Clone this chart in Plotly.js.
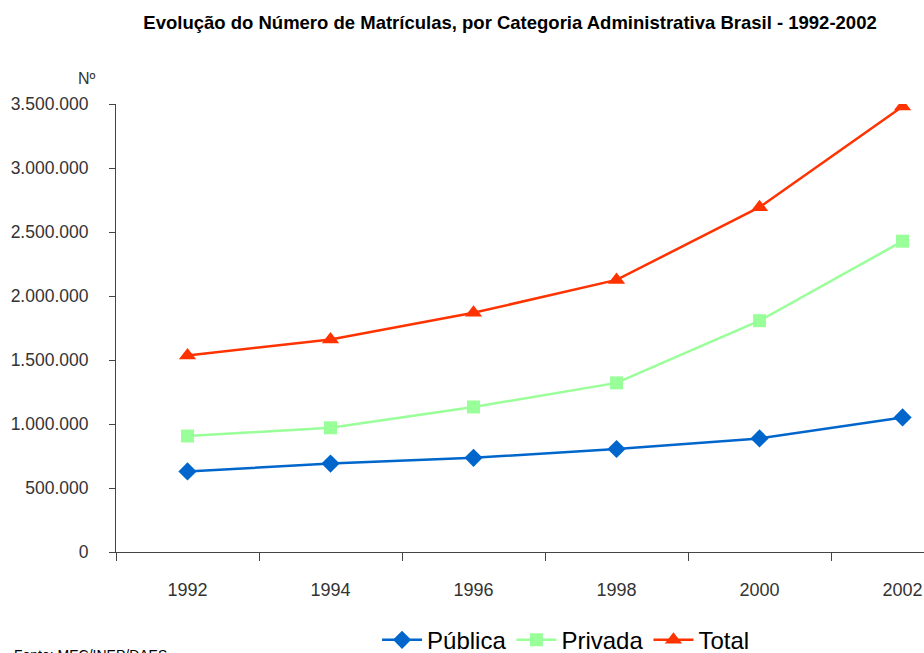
<!DOCTYPE html>
<html>
<head>
<meta charset="utf-8">
<script src="https://cdn.plot.ly/plotly-3.0.1.min.js"></script>
<style>html,body{margin:0;padding:0;background:#fff;}#chart{width:924px;height:653px;}</style>
</head>
<body>
<div id="chart"></div>
<script>
const years = ["1992", "1994", "1996", "1998", "2000", "2002"];
const publica = [629662, 690450, 735427, 804729, 887026, 1051655];
const privada = [906126, 970584, 1133102, 1321229, 1807219, 2428258];
const total = [1535788, 1661034, 1868529, 2125958, 2694245, 3479913];
const yTicks = [0, 500000, 1000000, 1500000, 2000000, 2500000, 3000000, 3500000];
const yTickText = ["0", "500.000", "1.000.000", "1.500.000", "2.000.000", "2.500.000", "3.000.000", "3.500.000"];

const font = "Liberation Sans, Arial, sans-serif";
const txt = "#333";
const traces = [
  {x: years, y: publica, name: "Pública", mode: "lines+markers", type: "scatter",
   line: {color: "#0066CC", width: 2.5}, marker: {symbol: "diamond", size: 14, color: "#0066CC"}},
  {x: years, y: privada, name: "Privada", mode: "lines+markers", type: "scatter",
   line: {color: "#99FF99", width: 2.5}, marker: {symbol: "square", size: 13, color: "#99FF99"}},
  {x: years, y: total, name: "Total", mode: "lines+markers", type: "scatter",
   line: {color: "#FF3300", width: 2.5}, marker: {symbol: "triangle-up", size: 15, color: "#FF3300"}}
];
const layout = {
  width: 924, height: 653,
  margin: {l: 116, r: 0, t: 104, b: 101, autoexpand: false},
  paper_bgcolor: "#fff", plot_bgcolor: "#fff",
  font: {family: font, color: "#000"},
  title: {text: "<b>Evolução do Número de Matrículas, por Categoria Administrativa Brasil - 1992-2002</b>",
          font: {size: 18.5, family: font, color: "#000"}, x: 0.552, xanchor: "center", y: 0.965, yanchor: "middle"},
  xaxis: {type: "category", range: [-0.5, 5.15], tickson: "boundaries", ticks: "outside", ticklen: 8,
          tickcolor: "#444", showline: true, linecolor: "#444", linewidth: 1, showgrid: false, zeroline: false,
          tickfont: {size: 18, family: font, color: txt}, ticklabelstandoff: 21},
  yaxis: {range: [0, 3500000], tickvals: yTicks, ticktext: yTickText, ticks: "outside", ticklen: 6,
          tickcolor: "#444", showline: true, linecolor: "#444", linewidth: 1, showgrid: false, zeroline: false,
          tickfont: {size: 17.5, family: font, color: txt}, ticklabelstandoff: 17},
  showlegend: true,
  legend: {orientation: "h", x: 0.557, xanchor: "center", yref: "container", y: 0.0195, yanchor: "middle",
           font: {size: 24, family: font, color: "#000"}, itemwidth: 40, tracegroupgap: 0},
  annotations: [
    {text: "Nº", xref: "paper", yref: "paper", x: -0.022, y: 1.058, xanchor: "right", yanchor: "middle",
     showarrow: false, font: {size: 16, family: font, color: txt}},
    {text: "Fonte: MEC/INEP/DAES", xref: "paper", yref: "paper", x: -0.129, y: -0.231, xanchor: "left", yanchor: "middle",
     showarrow: false, font: {size: 14, family: font, color: "#000"}}
  ]
};
Plotly.newPlot("chart", traces, layout, {displayModeBar: false, staticPlot: true});
</script>
</body>
</html>
